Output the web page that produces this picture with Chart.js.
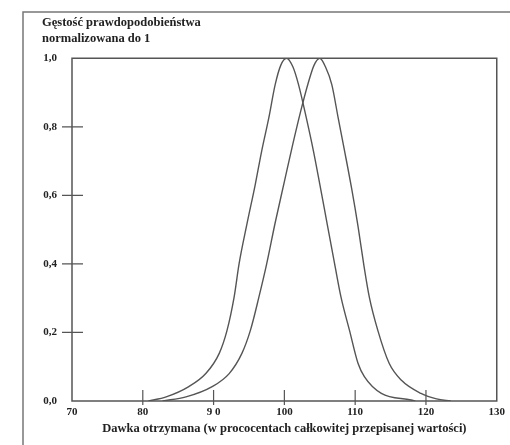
<!DOCTYPE html>
<html>
<head>
<meta charset="utf-8">
<script src="https://cdn.jsdelivr.net/npm/chart.js@4.4.0/dist/chart.umd.min.js"></script>
<style>
  html, body { margin: 0; padding: 0; background: #fff; }
  #wrap { width: 510px; height: 445px; position: relative; }
</style>
</head>
<body>
<div id="wrap"><canvas id="densityChart"></canvas></div>
<script>
// values (dose in %, density normalised to 1)
const doseLeft = [80.8, 83.3, 86.5, 88.9, 90.8, 91.9, 92.9, 93.6, 94.7, 95.9, 96.8, 97.8, 98.7, 99.5, 100.3, 101.2, 102.0, 103.1, 104.1, 105.0, 106.05, 107.1, 108.0, 109.2, 110.4, 111.3, 113.7, 117.9, 118.5];
const densLeft = [0, 0.012, 0.042, 0.08, 0.139, 0.206, 0.303, 0.4, 0.515, 0.633, 0.73, 0.826, 0.923, 0.98, 1.0, 0.975, 0.923, 0.826, 0.73, 0.633, 0.516, 0.4, 0.303, 0.206, 0.11, 0.071, 0.022, 0.003, 0];

const doseRight = [82.8, 86.1, 89.8, 92.2, 94.0, 95.2, 96.4, 97.5, 98.7, 100.0, 101.2, 102.3, 103.4, 104.2, 105.0, 105.8, 106.7, 107.6, 108.5, 109.5, 110.4, 111.2, 112.0, 113.2, 114.8, 116.5, 119.3, 121.5, 123.5];
const densRight = [0, 0.012, 0.042, 0.08, 0.139, 0.206, 0.303, 0.4, 0.52, 0.64, 0.75, 0.845, 0.93, 0.98, 1.0, 0.975, 0.923, 0.826, 0.73, 0.62, 0.51, 0.4, 0.303, 0.206, 0.11, 0.061, 0.022, 0.006, 0];

const xTickValues = [70, 80, 90, 100, 110, 120, 130];
const xTickLabels = ['70', '80', '9 0', '100', '110', '120', '130'];
const yTickValues = [0, 0.2, 0.4, 0.6, 0.8, 1.0];
const yTickLabels = ['0,0', '0,2', '0,4', '0,6', '0,8', '1,0'];

const titleLines = ['Gęstość prawdopodobieństwa', 'normalizowana do 1'];
const xAxisTitle = 'Dawka otrzymana (w prococentach całkowitej przepisanej wartości)';

const INK = '#222';
const LINE = '#555';
const SERIF = "'Liberation Serif', 'DejaVu Serif', serif";

const toPoints = (xs, ys) => xs.map((x, i) => ({ x: x, y: ys[i] }));

// --- frame, plot box and the tick marks that cross the axes ---
const framePlugin = {
    id: 'frame',
    afterDraw(chart) {
        const { ctx, chartArea: a, scales } = chart;
        ctx.save();
        // outer page frame (left and top edge only)
        ctx.strokeStyle = '#777';
        ctx.lineWidth = 1.5;
        ctx.beginPath();
        ctx.moveTo(23, 445);
        ctx.lineTo(23, 12);
        ctx.lineTo(510, 12);
        ctx.stroke();

        // plot box
        ctx.strokeStyle = LINE;
        ctx.lineWidth = 1.5;
        ctx.strokeRect(a.left, a.top, a.right - a.left, a.bottom - a.top);

        // tick marks
        ctx.lineWidth = 1.2;
        ctx.beginPath();
        xTickValues.slice(1, -1).forEach(v => {
            const px = scales.x.getPixelForValue(v);
            ctx.moveTo(px, a.bottom - 11);
            ctx.lineTo(px, a.bottom + 4);
        });
        yTickValues.slice(1, -1).forEach(v => {
            const py = scales.y.getPixelForValue(v);
            ctx.moveTo(a.left - 10, py);
            ctx.lineTo(a.left + 11, py);
        });
        ctx.stroke();
        ctx.restore();
    }
};

const curveStyle = {
    borderColor: LINE,
    borderWidth: 1.4,
    pointRadius: 0,
    cubicInterpolationMode: 'monotone',
    fill: false
};

new Chart(document.getElementById('densityChart'), {
    type: 'line',
    data: {
        datasets: [
            Object.assign({ data: toPoints(doseLeft, densLeft) }, curveStyle),
            Object.assign({ data: toPoints(doseRight, densRight) }, curveStyle)
        ]
    },
    options: {
        responsive: true,
        maintainAspectRatio: false,
        animation: false,
        events: [],
        layout: { padding: { left: 42, top: 15, right: 6, bottom: 0 } },
        plugins: {
            legend: { display: false },
            tooltip: { enabled: false },
            title: {
                display: true,
                text: titleLines,
                align: 'start',
                color: INK,
                font: { family: SERIF, size: 12.5, weight: 'bold', lineHeight: 1.25 },
                padding: { top: 0, bottom: 12 }
            }
        },
        scales: {
            x: {
                type: 'linear',
                min: 70,
                max: 130,
                afterBuildTicks: scale => { scale.ticks = xTickValues.map(v => ({ value: v })); },
                afterFit: scale => { scale.height = 44; },
                grid: { display: false, drawTicks: false },
                border: { display: false },
                ticks: {
                    padding: 5,
                    maxRotation: 0,
                    color: INK,
                    font: { family: SERIF, size: 11, weight: 'bold' },
                    callback: v => xTickLabels[xTickValues.indexOf(v)]
                },
                title: {
                    display: true,
                    text: xAxisTitle,
                    color: INK,
                    font: { family: SERIF, size: 12.5, weight: 'bold' },
                    padding: { top: 0, bottom: 9 }
                }
            },
            y: {
                min: 0,
                max: 1,
                afterBuildTicks: scale => { scale.ticks = yTickValues.map(v => ({ value: v })); },
                afterFit: scale => { scale.width = 30; },
                grid: { display: false, drawTicks: false },
                border: { display: false },
                ticks: {
                    padding: 15,
                    color: INK,
                    font: { family: SERIF, size: 11, weight: 'bold' },
                    callback: v => yTickLabels[yTickValues.indexOf(v)]
                }
            }
        }
    },
    plugins: [framePlugin]
});
</script>
</body>
</html>
